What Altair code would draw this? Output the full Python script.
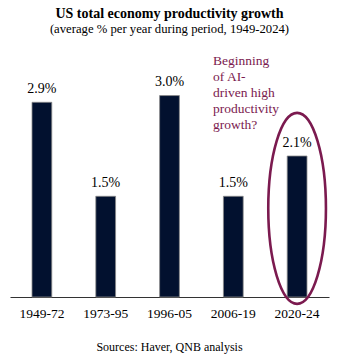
import altair as alt
import pandas as pd

periods = ["1949-72", "1973-95", "1996-05", "2006-19", "2020-24"]
growth = [2.9, 1.5, 3.0, 1.5, 2.1]

title_text = "US total economy productivity growth"
subtitle_text = "(average % per year during period, 1949-2024)"
source_text = "Sources: Haver, QNB analysis"
note_lines = ["Beginning", "of AI-", "driven high", "productivity", "growth?"]
highlight_period = "2020-24"
highlight_center = 1.32

FONT = "Liberation Serif"
BAR = "#02112f"
MAROON = "#7b1a4f"

df = pd.DataFrame({"period": periods, "growth": growth})
df["label"] = [f"{v:.1f}%" for v in growth]

x_enc = alt.X(
    "period:N",
    sort=periods,
    scale=alt.Scale(paddingInner=0.69, paddingOuter=0.345),
    axis=alt.Axis(
        title=None, labelAngle=0, ticks=False, grid=False,
        domainColor="#333333", domainWidth=1.2,
        labelFont=FONT, labelFontSize=13.5, labelColor="#000000",
        labelPadding=9,
    ),
)
y_enc = alt.Y("growth:Q", scale=alt.Scale(domain=[0, 3.5], nice=False, zero=True), axis=None)

base = alt.Chart(df)

bars = base.mark_bar(color=BAR, stroke="#8a8a8a", strokeWidth=0.8).encode(x=x_enc, y=y_enc)

labels = base.mark_text(
    font=FONT, fontSize=14, color="#000000", baseline="alphabetic", dy=-9.5
).encode(x=x_enc, y=y_enc, text="label:N")

a = 0.302
k = 0.5523
ka = round(k * a, 4)
ellipse_path = (
    f"M 0 -1 C {ka} -1 {a} -{k} {a} 0 C {a} {k} {ka} 1 0 1 "
    f"C -{ka} 1 -{a} {k} -{a} 0 C -{a} -{k} -{ka} -1 0 -1 Z"
)
ellipse = alt.Chart(pd.DataFrame({"period": [highlight_period], "c": [highlight_center]})).mark_point(
    shape=ellipse_path, size=191 * 191, filled=False, stroke=MAROON, strokeWidth=2.6, opacity=1
).encode(
    x=alt.X("period:N", sort=periods),
    y=alt.Y("c:Q"),
)

note = alt.Chart(pd.DataFrame({"t": ["\n".join(note_lines)]})).mark_text(
    font=FONT, fontSize=13.5, color=MAROON, align="left", baseline="alphabetic",
    lineBreak="\n", lineHeight=16,
).encode(x=alt.value(203), y=alt.value(3), text="t:N")

title = alt.Chart(pd.DataFrame({"t": [title_text]})).mark_text(
    font=FONT, fontSize=14, fontWeight="bold", color="#000000", align="center", baseline="alphabetic"
).encode(x=alt.value(159.5), y=alt.value(-44), text="t:N")

subtitle = alt.Chart(pd.DataFrame({"t": [subtitle_text]})).mark_text(
    font=FONT, fontSize=12.7, color="#000000", align="center", baseline="alphabetic"
).encode(x=alt.value(159.5), y=alt.value(-29), text="t:N")

source = alt.Chart(pd.DataFrame({"t": [source_text]})).mark_text(
    font=FONT, fontSize=12, color="#000000", align="center", baseline="alphabetic"
).encode(x=alt.value(159.5), y=alt.value(289), text="t:N")

chart = alt.layer(bars, labels, ellipse, note, title, subtitle, source).properties(
    width=319,
    height=235,
    autosize=alt.AutoSizeParams(type="none"),
    padding={"left": 10, "top": 62, "right": 15, "bottom": 58},
    background="white",
).configure_view(stroke=None)

chart.save("out.html", embed_options={"renderer": "svg", "actions": False})
